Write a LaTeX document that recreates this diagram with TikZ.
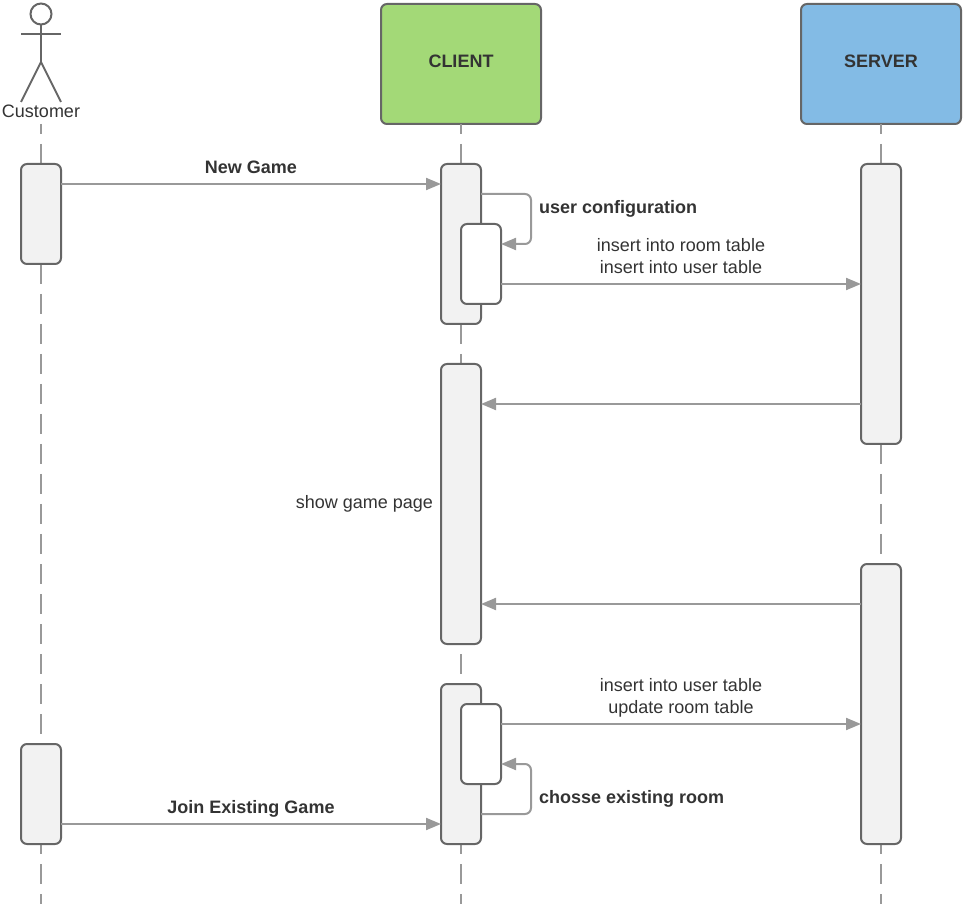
\documentclass[tikz,border=0pt]{standalone}
\usepackage{fontspec}
\setmainfont{Liberation Sans}
\usetikzlibrary{arrows.meta}
\definecolor{ink}{HTML}{333333}
\definecolor{edge}{HTML}{666666}
\definecolor{wire}{HTML}{999999}
\definecolor{pale}{HTML}{F2F2F2}
\definecolor{clientfill}{HTML}{A3D977}
\definecolor{serverfill}{HTML}{83BBE5}
\newcommand{\headtext}[1]{\raisebox{2.25pt}[\height][\depth]{#1}}
\tikzset{
  x=0.75pt,y=-0.75pt,
  every node/.style={font=\fontsize{13.5pt}{16.5pt}\selectfont,text=ink,inner sep=0pt,outer sep=0pt},
  head/.style={draw=edge,line width=1.5pt,rounded corners=4.5pt,minimum width=120pt,minimum height=90pt,font=\fontsize{13.5pt}{16.5pt}\selectfont\bfseries},
  act/.style={draw=edge,line width=1.5pt,fill=pale,rounded corners=4.5pt,minimum width=30pt,minimum height=#1*0.75pt},
  actw/.style={act=#1,fill=white},
  lifeline/.style={draw=wire,line width=1.5pt,dash pattern=on 15pt off 7.5pt,dash phase=7.5pt},
  msg/.style={draw=wire,line width=1.5pt,-{Triangle[length=11.25pt,width=9pt,fill=wire,color=wire]}},
  loopmsg/.style={msg,rounded corners=4.5pt},
  figure/.style={draw=edge,line width=1.5pt},
  blab/.style={font=\fontsize{13.5pt}{16.5pt}\selectfont\bfseries}
}
\begin{document}
\begin{tikzpicture}
\useasboundingbox (0,0) rectangle (965,909);
% free ends of the lifelines
\coordinate (bottom) at (0,904);
\coordinate (custtop) at (41,124);
% heads
\node[head,fill=clientfill] (client) at (461,64) {\headtext{CLIENT}};
\node[head,fill=serverfill] (server) at (881,64) {\headtext{SERVER}};
% lifelines
\draw[lifeline] (custtop) -- (custtop |- bottom);
\draw[lifeline] (client.south) -- (client.south |- bottom);
\draw[lifeline] (server.south) -- (server.south |- bottom);
% actor
\node[draw=edge,line width=1.5pt,circle,minimum size=15.75pt] (actorhead) at (41,14) {};
\coordinate (hip) at (41,62);
\coordinate (armL) at (21,34);
\coordinate (armR) at (61,34);
\coordinate (footL) at (21,102);
\coordinate (footR) at (61,102);
\draw[figure] (actorhead.south) -- (hip);
\draw[figure] (armL) -- (armR);
\draw[figure] (footL) -- (hip) -- (footR);
\node (customer) at (41,111) {Customer};
% activations
\node[act=100] (a1) at (41,214) {};
\node[act=100] (a2) at (41,794) {};
\node[act=160] (c1) at (461,244) {};
\node[act=280] (c3) at (461,504) {};
\node[act=160] (c4) at (461,764) {};
\node[act=280] (s1) at (881,304) {};
\node[act=280] (s2) at (881,704) {};
\node[actw=80] (c2) at (481,264) {};
\node[actw=80] (c5) at (481,744) {};
% message levels
\coordinate (y1) at (0,184);
\coordinate (y2) at (0,284);
\coordinate (y3) at (0,404);
\coordinate (y4) at (0,604);
\coordinate (y5) at (0,724);
\coordinate (y6) at (0,824);
\coordinate (la) at (0,194);
\coordinate (lb) at (0,244);
\coordinate (lc) at (0,814);
\coordinate (ld) at (0,764);
\coordinate (lx) at (531,0);
% self loops
\draw[loopmsg] (c1.east |- la) -- (lx |- la) -- (lx |- lb) -- (c2.east |- lb);
\draw[loopmsg] (c4.east |- lc) -- (lx |- lc) -- (lx |- ld) -- (c5.east |- ld);
% messages
\draw[msg] (a1.east |- y1) -- (c1.west |- y1);
\draw[msg] (c2.east |- y2) -- (s1.west |- y2);
\draw[msg] (s1.west |- y3) -- (c3.east |- y3);
\draw[msg] (s2.west |- y4) -- (c3.east |- y4);
\draw[msg] (c5.east |- y5) -- (s2.west |- y5);
\draw[msg] (a2.east |- y6) -- (c4.west |- y6);
% labels
\node[blab] (t1) at (251,167) {New Game};
\node[blab,anchor=west] (t2) at (539,209) {user configuration};
\node (t3) at (681,245) {insert into room table};
\node (t4) at (681,267) {insert into user table};
\node[anchor=east] (t5) at (433,504) {show game page};
\node (t6) at (681,685) {insert into user table};
\node (t7) at (681,709) {update room table};
\node[blab,anchor=west] (t8) at (539,799) {chosse existing room};
\node[blab] (t9) at (251,809) {Join Existing Game};
\end{tikzpicture}
\end{document}
